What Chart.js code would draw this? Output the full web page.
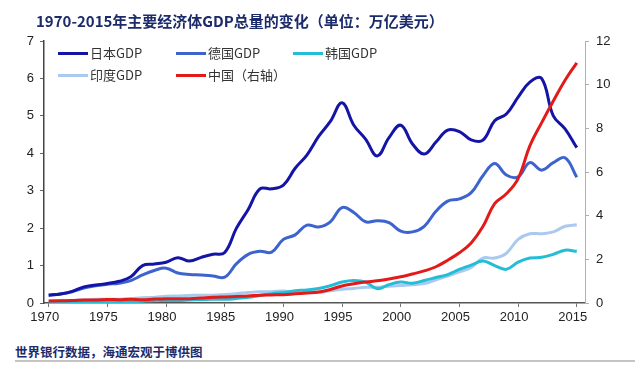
<!DOCTYPE html>
<html>
<head>
<meta charset="utf-8">
<script src="https://cdn.jsdelivr.net/npm/chart.js@4"></script>
<style>
  body { margin: 0; background: #fff; }
  #wrap { position: relative; width: 640px; height: 367px; overflow: hidden; }
  #title { position: absolute; left: 36px; top: 10px; font: bold 15px "Noto Sans CJK SC", sans-serif; color: #1c2b6b; white-space: nowrap; }
  #src { position: absolute; left: 15px; top: 342px; font: bold 12.5px "Noto Sans CJK SC", sans-serif; color: #1c2b6b; white-space: nowrap; }
  #rule { position: absolute; left: 15px; right: 5px; top: 360px; height: 2px; background: #c4c4c4; }
  #chart { position: absolute; left: 0; top: 0; }
  .lg { position: absolute; font: 13px "Noto Sans CJK SC", sans-serif; color: #333; white-space: nowrap; line-height: 16px; }
  .lg i { display: inline-block; width: 30px; height: 3px; vertical-align: middle; margin-right: 2px; position: relative; top: -1px; }
</style>
</head>
<body>
<div id="wrap">
  <canvas id="chart" width="640" height="340"></canvas>
  <div id="title">1970-2015年主要经济体GDP总量的变化（单位：万亿美元）</div>
  <div id="legend"></div>
  <div id="src">世界银行数据，海通宏观于博供图</div>
  <div id="rule"></div>
</div>
<script>
const years = [1970, 1971, 1972, 1973, 1974, 1975, 1976, 1977, 1978, 1979,
  1980, 1981, 1982, 1983, 1984, 1985, 1986, 1987, 1988, 1989,
  1990, 1991, 1992, 1993, 1994, 1995, 1996, 1997, 1998, 1999,
  2000, 2001, 2002, 2003, 2004, 2005, 2006, 2007, 2008, 2009,
  2010, 2011, 2012, 2013, 2014, 2015];

// left axis, trillion USD
const japan = [0.21, 0.24, 0.31, 0.43, 0.48, 0.52, 0.58, 0.70, 1.00, 1.04,
  1.09, 1.21, 1.12, 1.22, 1.30, 1.35, 2.00, 2.50, 3.05, 3.05,
  3.15, 3.60, 3.95, 4.45, 4.85, 5.35, 4.75, 4.38, 3.93, 4.42,
  4.75, 4.25, 3.98, 4.30, 4.62, 4.58, 4.36, 4.35, 4.87, 5.05,
  5.50, 5.90, 6.00, 5.00, 4.65, 4.15];
const germany = [0.21, 0.24, 0.30, 0.40, 0.46, 0.50, 0.53, 0.60, 0.75, 0.87,
  0.93, 0.80, 0.76, 0.75, 0.72, 0.69, 1.05, 1.30, 1.38, 1.36,
  1.70, 1.82, 2.08, 2.03, 2.17, 2.55, 2.42, 2.17, 2.20, 2.15,
  1.92, 1.90, 2.05, 2.45, 2.72, 2.78, 2.95, 3.40, 3.73, 3.42,
  3.37, 3.75, 3.55, 3.75, 3.88, 3.36];
const korea = [0.01, 0.01, 0.01, 0.02, 0.02, 0.02, 0.03, 0.04, 0.05, 0.07,
  0.065, 0.07, 0.08, 0.09, 0.10, 0.10, 0.12, 0.15, 0.20, 0.25,
  0.28, 0.33, 0.35, 0.39, 0.46, 0.56, 0.60, 0.56, 0.38, 0.49,
  0.56, 0.53, 0.60, 0.68, 0.76, 0.90, 1.01, 1.12, 1.00, 0.90,
  1.09, 1.20, 1.22, 1.30, 1.41, 1.38];
const india = [0.06, 0.07, 0.07, 0.08, 0.10, 0.10, 0.10, 0.12, 0.14, 0.15,
  0.18, 0.19, 0.20, 0.21, 0.21, 0.23, 0.25, 0.28, 0.30, 0.30,
  0.32, 0.27, 0.29, 0.28, 0.33, 0.37, 0.39, 0.42, 0.42, 0.45,
  0.47, 0.49, 0.52, 0.62, 0.72, 0.83, 0.95, 1.20, 1.20, 1.33,
  1.70, 1.85, 1.85, 1.90, 2.05, 2.09];
// right axis
const china = [0.09, 0.10, 0.11, 0.14, 0.14, 0.16, 0.15, 0.17, 0.15, 0.18,
  0.19, 0.20, 0.20, 0.23, 0.26, 0.28, 0.30, 0.32, 0.36, 0.37,
  0.38, 0.42, 0.46, 0.50, 0.62, 0.78, 0.88, 0.96, 1.02, 1.10,
  1.20, 1.33, 1.47, 1.66, 1.96, 2.30, 2.75, 3.50, 4.55, 5.00,
  5.70, 7.20, 8.25, 9.25, 10.20, 11.00];

const xTicks = [1970, 1975, 1980, 1985, 1990, 1995, 2000, 2005, 2010, 2015];
const leftTicks = [0, 1, 2, 3, 4, 5, 6, 7];
const rightTicks = [0, 2, 4, 6, 8, 10, 12];

const series = [
  { label: '日本GDP', data: japan, color: '#1414a6', axis: 'y', order: 1 },
  { label: '德国GDP', data: germany, color: '#3d63cf', axis: 'y', order: 2 },
  { label: '韩国GDP', data: korea, color: '#23bdd6', axis: 'y', order: 3 },
  { label: '印度GDP', data: india, color: '#a9c9ee', axis: 'y', order: 4 },
  { label: '中国（右轴）', data: china, color: '#e31a1a', axis: 'y2', order: 0 }
];

// legend inside plot, 3 columns
const legendPos = [[58, 45], [176, 45], [293, 45], [58, 67], [176, 67]];
const legendEl = document.getElementById('legend');
series.forEach((s, i) => {
  const d = document.createElement('div');
  d.className = 'lg';
  d.style.left = legendPos[i][0] + 'px';
  d.style.top = legendPos[i][1] + 'px';
  d.innerHTML = '<i style="background:' + s.color + '"></i>' + s.label;
  legendEl.appendChild(d);
});

const tickFont = { family: '"Liberation Sans", Arial, sans-serif', size: 13 };

new Chart(document.getElementById('chart'), {
  type: 'line',
  data: {
    datasets: series.map(s => ({
      label: s.label,
      data: years.map((y, i) => ({ x: y, y: s.data[i] })),
      borderColor: s.color,
      borderWidth: 3,
      pointRadius: 0,
      tension: 0.4,
      yAxisID: s.axis,
      order: s.order
    }))
  },
  options: {
    responsive: false,
    animation: false,
    layout: { padding: { top: 41, left: 0, right: 0, bottom: 0 } },
    plugins: { legend: { display: false }, tooltip: { enabled: false } },
    scales: {
      x: {
        type: 'linear',
        min: 1969.6,
        max: 2015.7,
        afterBuildTicks: sc => { sc.ticks = xTicks.map(v => ({ value: v })); },
        afterFit: sc => { sc.height = 37; },
        border: { color: '#555', width: 1.5 },
        grid: { drawOnChartArea: false, drawTicks: true, tickLength: 4, color: '#777' },
        ticks: { font: tickFont, color: '#222', padding: 3, labelOffset: -4, maxRotation: 0,
          callback: v => String(v) }
      },
      y: {
        position: 'left',
        min: 0, max: 7,
        afterBuildTicks: sc => { sc.ticks = leftTicks.map(v => ({ value: v })); },
        afterFit: sc => { sc.width = 44; },
        border: { color: '#444', width: 1.5 },
        grid: { drawOnChartArea: false, drawTicks: true, tickLength: 4, color: '#666' },
        ticks: { font: tickFont, color: '#222', padding: 6 }
      },
      y2: {
        position: 'right',
        min: 0, max: 12,
        afterBuildTicks: sc => { sc.ticks = rightTicks.map(v => ({ value: v })); },
        afterFit: sc => { sc.width = 55; },
        border: { color: '#b0b0b0', width: 1 },
        grid: { drawOnChartArea: false, drawTicks: true, tickLength: 4, color: '#b0b0b0' },
        ticks: { font: tickFont, color: '#222', padding: 7 }
      }
    }
  }
});
</script>
</body>
</html>
